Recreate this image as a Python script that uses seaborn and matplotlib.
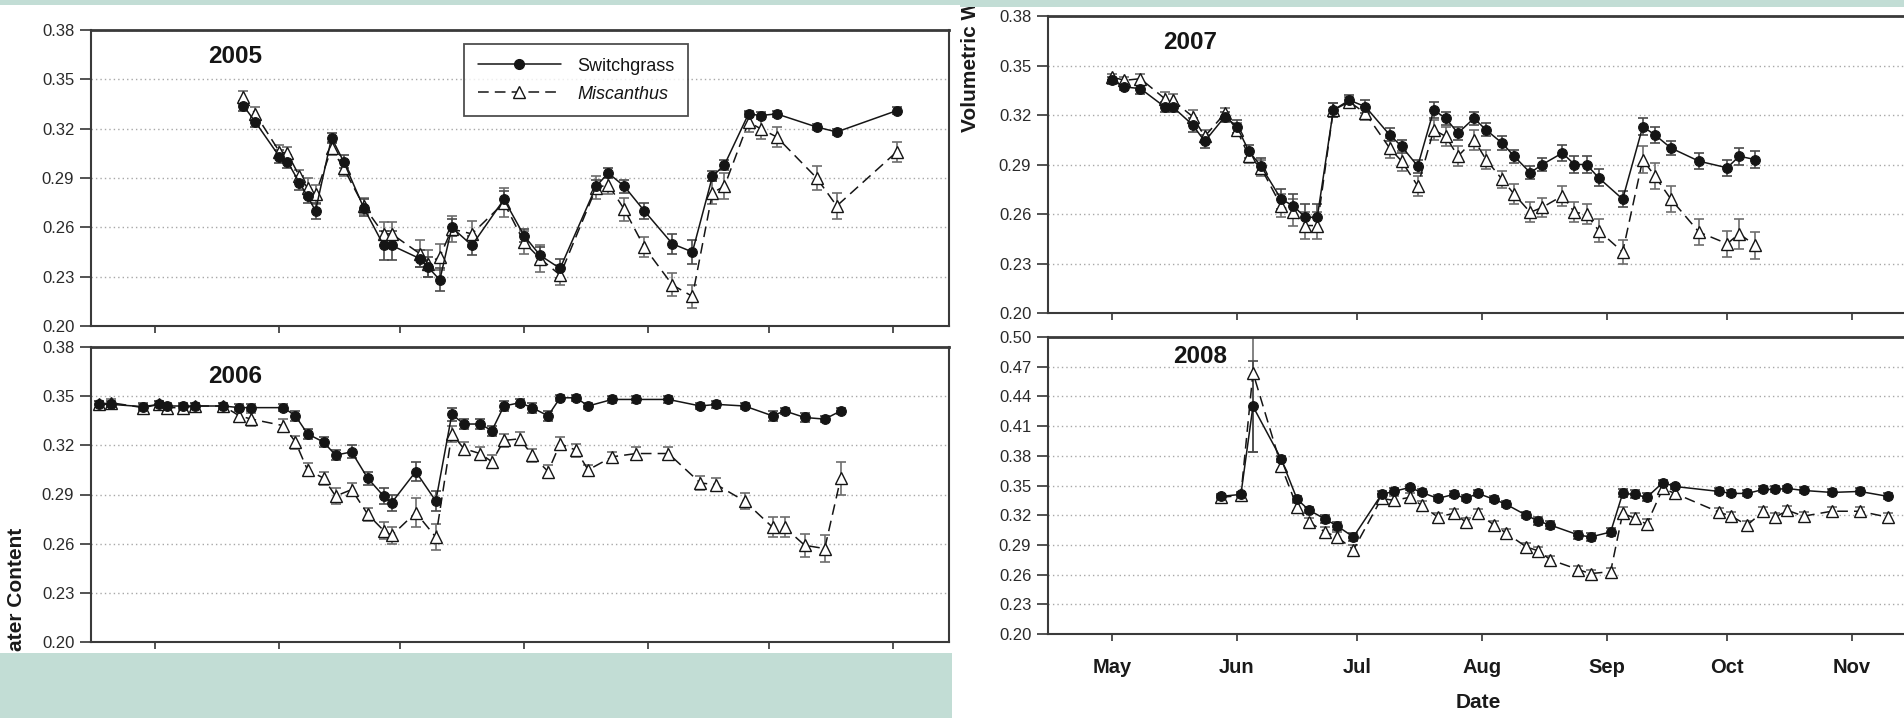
import matplotlib
matplotlib.use("Agg")
import matplotlib.pyplot as plt
import matplotlib.dates as mdates
from matplotlib.patches import Rectangle
from matplotlib.lines import Line2D
from matplotlib.ticker import NullFormatter, FormatStrFormatter
import seaborn as sns
import pandas as pd
import numpy as np

# ---------------- data ----------------
dates_2005 = ["05-23", "05-26", "06-01", "06-03", "06-06", "06-08", "06-10", "06-14", "06-17",
              "06-22", "06-27", "06-29", "07-06", "07-08", "07-11", "07-14", "07-19", "07-27",
              "08-01", "08-05", "08-10", "08-19", "08-22", "08-26", "08-31", "09-07", "09-12",
              "09-17", "09-20", "09-26", "09-29", "10-03", "10-13", "10-18", "11-02"]
switch_2005 = [0.334, 0.324, 0.303, 0.300, 0.287, 0.279, 0.270, 0.3145, 0.300, 0.272, 0.249, 0.249,
               0.241, 0.236, 0.228, 0.260, 0.249, 0.277, 0.255, 0.243, 0.235, 0.285, 0.293, 0.285,
               0.270, 0.250, 0.245, 0.291, 0.298, 0.329, 0.328, 0.329, 0.321, 0.318, 0.331]
switch_2005_se = [0.003, 0.003, 0.004, 0.004, 0.004, 0.004, 0.005, 0.003, 0.004, 0.005, 0.009, 0.009,
                  0.005, 0.006, 0.007, 0.005, 0.006, 0.005, 0.004, 0.005, 0.006, 0.004, 0.003, 0.004,
                  0.005, 0.006, 0.007, 0.003, 0.003, 0.002, 0.002, 0.002, 0.002, 0.002, 0.002]
misc_2005 = [0.339, 0.329, 0.306, 0.305, 0.291, 0.284, 0.280, 0.308, 0.296, 0.273, 0.256, 0.256,
             0.244, 0.238, 0.242, 0.259, 0.256, 0.275, 0.251, 0.241, 0.231, 0.284, 0.286, 0.271,
             0.248, 0.225, 0.218, 0.281, 0.285, 0.324, 0.320, 0.315, 0.290, 0.273, 0.306]
misc_2005_se = [0.004, 0.004, 0.004, 0.004, 0.004, 0.006, 0.006, 0.004, 0.005, 0.005, 0.007, 0.007,
                0.008, 0.008, 0.008, 0.008, 0.008, 0.009, 0.007, 0.008, 0.006, 0.007, 0.006, 0.007,
                0.006, 0.007, 0.007, 0.007, 0.008, 0.006, 0.006, 0.006, 0.007, 0.008, 0.006]

dates_2006 = ["04-17", "04-20", "04-28", "05-02", "05-04", "05-08", "05-11", "05-18", "05-22", "05-25",
              "06-02", "06-05", "06-08", "06-12", "06-15", "06-19", "06-23", "06-27", "06-29",
              "07-05", "07-10", "07-14", "07-17", "07-21", "07-24", "07-27", "07-31",
              "08-03", "08-07", "08-10", "08-14", "08-17", "08-23", "08-29",
              "09-06", "09-14", "09-18", "09-25", "10-02", "10-05", "10-10", "10-15", "10-19"]
switch_2006 = [0.345, 0.345, 0.3436, 0.345, 0.344, 0.344, 0.344, 0.344, 0.343, 0.343,
               0.343, 0.338, 0.327, 0.322, 0.314, 0.316, 0.300, 0.289, 0.285,
               0.304, 0.286, 0.339, 0.333, 0.333, 0.329, 0.344, 0.346,
               0.343, 0.338, 0.349, 0.349, 0.344, 0.348, 0.348,
               0.348, 0.344, 0.345, 0.344, 0.338, 0.341, 0.337, 0.336, 0.341]
switch_2006_se = [0.002] * 10 + [0.002, 0.003, 0.003, 0.003, 0.003, 0.004, 0.004, 0.005, 0.005,
                                 0.006, 0.006, 0.004, 0.003, 0.003, 0.003, 0.003, 0.002,
                                 0.003, 0.003, 0.002, 0.002, 0.002, 0.002, 0.002,
                                 0.002, 0.002, 0.002, 0.002, 0.003, 0.002, 0.003, 0.002, 0.002]
misc_2006 = [0.345, 0.346, 0.343, 0.345, 0.343, 0.343, 0.344, 0.344, 0.338, 0.336,
             0.332, 0.322, 0.305, 0.300, 0.289, 0.293, 0.278, 0.268, 0.265,
             0.279, 0.264, 0.327, 0.318, 0.315, 0.310, 0.323, 0.324,
             0.314, 0.304, 0.321, 0.317, 0.305, 0.313, 0.315,
             0.315, 0.297, 0.296, 0.286, 0.270, 0.270, 0.259, 0.257, 0.300]
misc_2006_se = [0.002, 0.002, 0.002, 0.002, 0.002, 0.002, 0.002, 0.002, 0.004, 0.004,
                0.004, 0.004, 0.004, 0.004, 0.005, 0.004, 0.004, 0.005, 0.005,
                0.009, 0.008, 0.005, 0.004, 0.004, 0.004, 0.004, 0.004,
                0.004, 0.004, 0.004, 0.004, 0.003, 0.003, 0.004,
                0.004, 0.004, 0.004, 0.005, 0.006, 0.006, 0.007, 0.008, 0.010]

dates_2007 = ["05-01", "05-04", "05-08", "05-14", "05-16", "05-21", "05-24", "05-29",
              "06-01", "06-04", "06-07", "06-12", "06-15", "06-18", "06-21", "06-25", "06-29",
              "07-03", "07-09", "07-12", "07-16", "07-20", "07-23", "07-26", "07-30",
              "08-02", "08-06", "08-09", "08-13", "08-16", "08-21", "08-24", "08-27", "08-30",
              "09-05", "09-10", "09-13", "09-17", "09-24", "10-01", "10-04", "10-08"]
switch_2007 = [0.341, 0.337, 0.336, 0.325, 0.325, 0.314, 0.304, 0.319,
               0.313, 0.298, 0.289, 0.269, 0.265, 0.258, 0.258, 0.323, 0.329,
               0.325, 0.308, 0.301, 0.289, 0.323, 0.318, 0.309, 0.318,
               0.311, 0.303, 0.295, 0.285, 0.290, 0.297, 0.290, 0.290, 0.282,
               0.269, 0.313, 0.308, 0.300, 0.292, 0.288, 0.295, 0.293]
switch_2007_se = [0.002, 0.002, 0.003, 0.003, 0.003, 0.004, 0.004, 0.003,
                  0.004, 0.004, 0.005, 0.006, 0.007, 0.008, 0.008, 0.004, 0.003,
                  0.004, 0.004, 0.004, 0.004, 0.005, 0.004, 0.004, 0.004,
                  0.004, 0.004, 0.004, 0.004, 0.004, 0.005, 0.005, 0.005, 0.005,
                  0.005, 0.005, 0.005, 0.004, 0.005, 0.005, 0.005, 0.005]
misc_2007 = [0.343, 0.341, 0.342, 0.330, 0.329, 0.319, 0.307, 0.321,
             0.311, 0.295, 0.288, 0.265, 0.261, 0.253, 0.253, 0.323, 0.328,
             0.321, 0.300, 0.292, 0.277, 0.311, 0.307, 0.295, 0.305,
             0.293, 0.281, 0.272, 0.261, 0.264, 0.271, 0.261, 0.260, 0.250,
             0.237, 0.293, 0.283, 0.269, 0.249, 0.242, 0.248, 0.241]
misc_2007_se = [0.002, 0.002, 0.003, 0.004, 0.004, 0.004, 0.004, 0.003,
                0.004, 0.004, 0.005, 0.007, 0.008, 0.008, 0.008, 0.004, 0.003,
                0.004, 0.006, 0.006, 0.006, 0.006, 0.006, 0.006, 0.006,
                0.006, 0.005, 0.006, 0.006, 0.006, 0.006, 0.006, 0.006, 0.007,
                0.007, 0.008, 0.008, 0.008, 0.008, 0.008, 0.009, 0.008]

dates_2008 = ["05-28", "06-02", "06-05", "06-12", "06-16", "06-19", "06-23", "06-26", "06-30",
              "07-07", "07-10", "07-14", "07-17", "07-21", "07-25", "07-28", "07-31",
              "08-04", "08-07", "08-12", "08-15", "08-18", "08-25", "08-28",
              "09-02", "09-05", "09-08", "09-11", "09-15", "09-18",
              "09-29", "10-02", "10-06", "10-10", "10-13", "10-16", "10-20", "10-27",
              "11-03", "11-10"]
switch_2008 = [0.339, 0.341, 0.430, 0.377, 0.336, 0.325, 0.316, 0.309, 0.298,
               0.341, 0.344, 0.348, 0.343, 0.337, 0.341, 0.337, 0.342,
               0.336, 0.331, 0.320, 0.314, 0.310, 0.300, 0.298,
               0.303, 0.342, 0.341, 0.338, 0.353, 0.349,
               0.344, 0.342, 0.342, 0.346, 0.346, 0.347, 0.345, 0.343,
               0.344, 0.339]
switch_2008_se = [0.002, 0.002, 0.046, 0.003, 0.003, 0.003, 0.004, 0.004, 0.004,
                  0.003, 0.003, 0.003, 0.003, 0.003, 0.003, 0.003, 0.003,
                  0.003, 0.003, 0.003, 0.004, 0.004, 0.004, 0.004,
                  0.004, 0.004, 0.004, 0.004, 0.003, 0.003,
                  0.003, 0.003, 0.003, 0.003, 0.003, 0.003, 0.003, 0.003,
                  0.003, 0.003]
misc_2008 = [0.338, 0.340, 0.464, 0.370, 0.328, 0.313, 0.303, 0.298, 0.285,
             0.337, 0.335, 0.338, 0.330, 0.318, 0.322, 0.313, 0.322,
             0.310, 0.302, 0.288, 0.284, 0.275, 0.265, 0.261,
             0.263, 0.322, 0.317, 0.311, 0.347, 0.342,
             0.323, 0.319, 0.310, 0.324, 0.318, 0.325, 0.319, 0.324,
             0.324, 0.318]
misc_2008_se = [0.002, 0.002, 0.080, 0.004, 0.004, 0.004, 0.005, 0.005, 0.005,
                0.004, 0.004, 0.004, 0.004, 0.004, 0.004, 0.004, 0.004,
                0.004, 0.004, 0.004, 0.004, 0.004, 0.004, 0.004,
                0.004, 0.006, 0.005, 0.005, 0.004, 0.004,
                0.004, 0.004, 0.004, 0.004, 0.004, 0.004, 0.004, 0.004,
                0.004, 0.004]

yticks_small = [0.20, 0.23, 0.26, 0.29, 0.32, 0.35, 0.38]
yticks_2008 = [0.20, 0.23, 0.26, 0.29, 0.32, 0.35, 0.38, 0.41, 0.44, 0.47, 0.50]
series_names = ["Switchgrass", "Miscanthus"]
x_label = "Date"

# ---------------- style ----------------
sns.set_theme(style="white")
plt.rcParams['font.family'] = ['Liberation Sans', 'DejaVu Sans']
NARROW = ['Liberation Sans Narrow', 'Liberation Sans', 'DejaVu Sans']
TEAL = '#c2ddd5'
INK = '#151515'

W, H = 1904, 718
fig = plt.figure(figsize=(W / 100, H / 100), dpi=100)
fig.patch.set_facecolor('white')


def px_rect(x0, y0, x1, y1):
    return [x0 / W, 1 - y1 / H, (x1 - x0) / W, (y1 - y0) / H]


panels = [
    (2005, dates_2005, switch_2005, switch_2005_se, misc_2005, misc_2005_se,
     px_rect(91, 30, 949, 326), yticks_small, (0.168, 0.91), False, True),
    (2006, dates_2006, switch_2006, switch_2006_se, misc_2006, misc_2006_se,
     px_rect(91, 347, 949, 642), yticks_small, (0.168, 0.90), False, False),
    (2007, dates_2007, switch_2007, switch_2007_se, misc_2007, misc_2007_se,
     px_rect(1048, 16, 1908, 313), yticks_small, (0.165, 0.91), False, False),
    (2008, dates_2008, switch_2008, switch_2008_se, misc_2008, misc_2008_se,
     px_rect(1048, 337, 1908, 634), yticks_2008, (0.177, 0.935), True, False),
]

for (year, md, sw, sw_se, mi, mi_se, rect, yt, ypos, xlabels, legend) in panels:
    ax = fig.add_axes(rect)
    ax.set_facecolor('white')
    d = pd.to_datetime([f"{year}-{m}" for m in md])

    ax.errorbar(d, mi, yerr=mi_se, fmt='none', ecolor='#6d6d6d', elinewidth=1.2,
                capsize=3.8, capthick=1.2, zorder=2)
    ax.errorbar(d, sw, yerr=sw_se, fmt='none', ecolor='#4a4a4a', elinewidth=1.2,
                capsize=3.8, capthick=1.2, zorder=2)
    sns.lineplot(x=d, y=mi, ax=ax, color=INK, linewidth=1.1, linestyle=(0, (7, 4)),
                 marker='^', markersize=8, markerfacecolor='white',
                 markeredgecolor=INK, markeredgewidth=1.0, zorder=3)
    sns.lineplot(x=d, y=sw, ax=ax, color=INK, linewidth=1.1,
                 marker='o', markersize=7, markerfacecolor=INK,
                 markeredgecolor=INK, markeredgewidth=0.8, zorder=4)

    ax.set_xlim(pd.Timestamp(f"{year}-04-15"), pd.Timestamp(f"{year}-11-15"))
    ax.set_ylim(yt[0], yt[-1])
    ax.set_yticks(yt)
    ax.yaxis.set_major_formatter(FormatStrFormatter('%.2f'))
    ax.xaxis.set_major_locator(mdates.MonthLocator(bymonth=range(5, 12)))
    if xlabels:
        ax.xaxis.set_major_formatter(mdates.DateFormatter('%b'))
        for lab in ax.get_xticklabels():
            lab.set_fontweight('bold')
        ax.tick_params(axis='x', labelsize=14.5, pad=12, labelcolor='#1a1a1a')
        ax.set_xlabel(x_label, fontsize=15, fontweight='bold', color='#1a1a1a', labelpad=12)
    else:
        ax.xaxis.set_major_formatter(NullFormatter())
        ax.set_xlabel('')
    ax.set_ylabel('')

    ax.yaxis.grid(True, linestyle=(0, (1, 2.2)), color='#a8a8a8', linewidth=1.0)
    ax.xaxis.grid(False)
    ax.tick_params(axis='y', left=True, direction='out', length=8, width=1.3,
                   color='#444', labelsize=12, pad=4, labelcolor='#2a2a2a')
    ax.tick_params(axis='x', bottom=True, direction='out', length=5, width=1.3, color='#444')
    for side, sp in ax.spines.items():
        sp.set_visible(True)
        sp.set_color('#3a3a3a')
        sp.set_linewidth(2.0 if side == 'top' else 1.5)

    ax.text(ypos[0], ypos[1], str(year), transform=ax.transAxes, fontsize=17.5,
            fontweight='bold', ha='center', va='center', color=INK, family=NARROW)

    if legend:
        handles = [
            Line2D([], [], color=INK, linewidth=1.1, marker='o', markersize=7,
                   markerfacecolor=INK, markeredgecolor=INK),
            Line2D([], [], color=INK, linewidth=1.1, linestyle=(0, (7, 4)), marker='^',
                   markersize=8, markerfacecolor='white', markeredgecolor=INK),
        ]
        leg = ax.legend(handles, series_names, loc='upper left', bbox_to_anchor=(0.435, 0.952),
                        frameon=True, fancybox=False, shadow=False, handlelength=4.6,
                        fontsize=13, borderpad=0.75, labelspacing=0.6, handletextpad=0.9,
                        borderaxespad=0)
        leg.get_frame().set_edgecolor('#222')
        leg.get_frame().set_linewidth(1.3)
        for t in leg.get_texts():
            t.set_family(NARROW)
            t.set_color(INK)
        leg.get_texts()[1].set_style('italic')

# ---------------- slide decoration ----------------
fig.patches.append(Rectangle((0, 1 - 5 / H), 960 / W, 5 / H, transform=fig.transFigure,
                             facecolor=TEAL, edgecolor='none', zorder=20))
fig.patches.append(Rectangle((960 / W, 1 - 7 / H), 1 - 960 / W, 7 / H, transform=fig.transFigure,
                             facecolor=TEAL, edgecolor='none', zorder=20))
fig.patches.append(Rectangle((0, 0), 952 / W, 65 / H, transform=fig.transFigure,
                             facecolor=TEAL, edgecolor='none', zorder=20))

# fragments of the shared y-axis title, as cropped in the slide
fig.text(971 / W, 1.0, "Volumetric W", rotation=90, ha='center', va='top',
         fontsize=15, fontweight='bold', color='#1a1a1a', zorder=15)
fig.text(17 / W, 1 - 528 / H, "ater Content", rotation=90, ha='center', va='top',
         fontsize=15, fontweight='bold', color='#1a1a1a', zorder=15)

fig.savefig("out.png", dpi=100, facecolor='white')
